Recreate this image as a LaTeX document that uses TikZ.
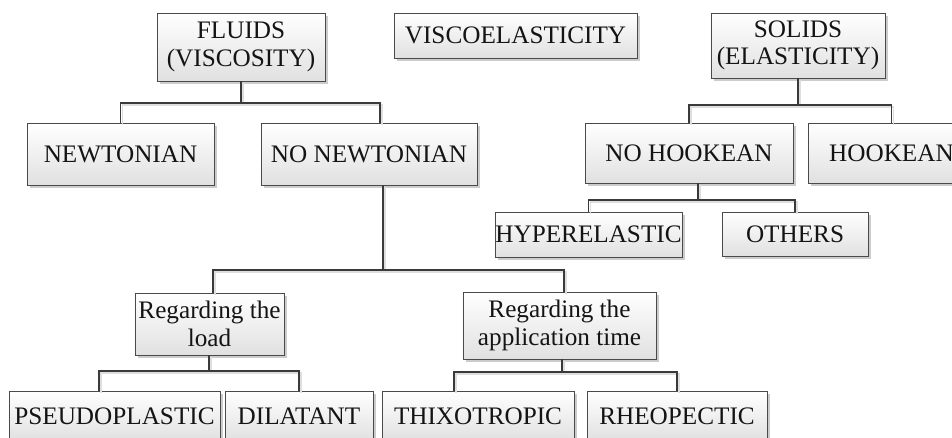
\documentclass[tikz,border=0pt]{standalone}
\usepackage{fontspec}
\setmainfont{Liberation Serif}
\usetikzlibrary{shadows}
\definecolor{edgec}{HTML}{4A4A4A}
\definecolor{linec}{HTML}{3A3A3A}
\definecolor{txtc}{HTML}{141414}
\begin{document}
\begin{tikzpicture}[x=1pt,y=-1pt,
  box/.style={draw=edgec, line width=0.9pt, top color=white, bottom color=black!12,
    inner sep=0pt, align=center, text=txtc, font=\fontsize{25.2}{27.5}\selectfont,
    drop shadow={shadow xshift=3pt, shadow yshift=-3pt, fill=black!40, opacity=0.5}},
  conn/.style={draw=linec, line width=1.4pt,
    preaction={draw=black!13, line width=1.6pt, transform canvas={shift={(2pt,-2pt)}}}}]
\useasboundingbox (0,0) rectangle (952,437);
\clip (0,0) rectangle (952,437);

% junction points
\coordinate (jf) at (241,103);
\coordinate (jn) at (383,270);
\coordinate (jl) at (209,371);
\coordinate (ja) at (562,372);
\coordinate (js) at (798,105);
\coordinate (jh) at (698,200);

% boxes
\node[box, minimum width=168pt, minimum height=68pt] (fluids) at (241,47) {FLUIDS\\(VISCOSITY)};
\node[box, minimum width=243pt, minimum height=45pt] (visco) at (515.5,35.5) {VISCOELASTICITY};
\node[box, minimum width=174pt, minimum height=65pt] (solids) at (798,45.5) {SOLIDS\\(ELASTICITY)};
\node[box, minimum width=187pt, minimum height=62pt] (newt) at (120.5,154) {NEWTONIAN};
\node[box, minimum width=216pt, minimum height=62pt] (nonewt) at (369,154) {NO NEWTONIAN};
\node[box, minimum width=208pt, minimum height=60pt] (nohook) at (689,153) {NO HOOKEAN};
\node[box, minimum width=167pt, minimum height=60pt] (hook) at (891.5,153) {HOOKEAN};
\node[box, minimum width=187pt, minimum height=45pt] (hyper) at (588.5,234.5) {HYPERELASTIC};
\node[box, minimum width=146pt, minimum height=44pt] (others) at (795,234) {OTHERS};
\node[box, minimum width=149pt, minimum height=62pt] (load) at (209.5,324) {Regarding the\\load};
\node[box, minimum width=193pt, minimum height=67pt] (app) at (559.5,325.5) {Regarding the\\application time};
\node[box, minimum width=211pt, minimum height=50pt] (pseudo) at (114.5,416) {PSEUDOPLASTIC};
\node[box, minimum width=148pt, minimum height=50pt] (dilat) at (299,416) {DILATANT};
\node[box, minimum width=192pt, minimum height=50pt] (thixo) at (478,416) {THIXOTROPIC};
\node[box, minimum width=180pt, minimum height=50pt] (rheo) at (677,416) {RHEOPECTIC};

% connectors
\draw[conn] (fluids.south) -- (jf);
\draw[conn] (newt.north) |- (jf) -| ([xshift=11pt]nonewt.north);
\draw[conn] (nonewt.south -| jn) -- (jn);
\draw[conn] ([xshift=3.5pt]load.north) |- (jn) -| ([xshift=4.5pt]app.north);
\draw[conn] (load.south -| jl) -- (jl);
\draw[conn] ([xshift=-15.5pt]pseudo.north) |- (jl) -| (dilat.north);
\draw[conn] (app.south -| ja) -- (ja);
\draw[conn] ([xshift=-24pt]thixo.north) |- (ja) -| (rheo.north);
\draw[conn] (solids.south) -- (js);
\draw[conn] (nohook.north) |- (js) -| (hook.north);
\draw[conn] (nohook.south -| jh) -- (jh);
\draw[conn] (hyper.north) |- (jh) -| (others.north);
\end{tikzpicture}
\end{document}
